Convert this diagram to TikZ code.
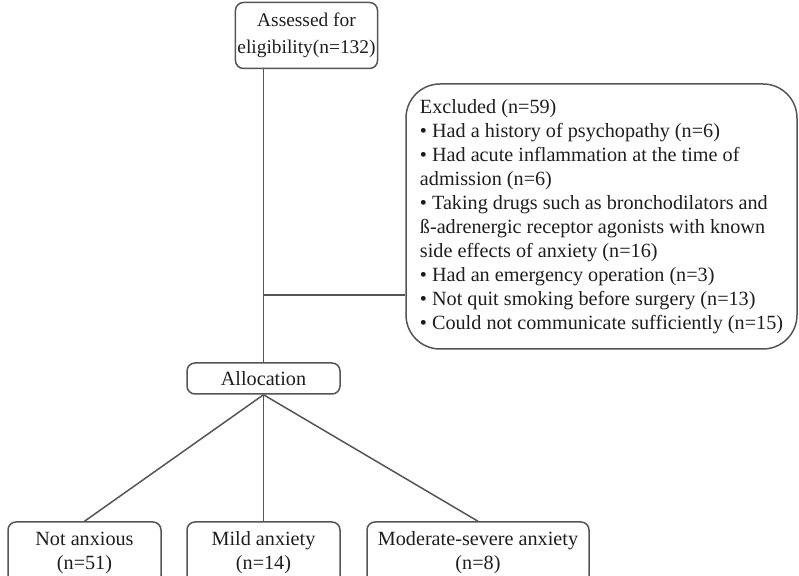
\documentclass[tikz,border=0pt]{standalone}
\usepackage{fontspec}
\setmainfont{Liberation Serif}
\usetikzlibrary{positioning}
\definecolor{flowline}{HTML}{555555}
\definecolor{flowtext}{HTML}{1E1E1E}
\tikzstyle{box} = [draw=flowline, line width=0.75pt, rounded corners=4pt, align=center, text=flowtext, inner sep=2pt]
\tikzstyle{link} = [draw=flowline, line width=0.75pt]

\begin{document}
\begin{tikzpicture}[x=0.5pt, y=-0.5pt, font=\fontsize{10.1}{12}\selectfont]
\useasboundingbox (0,0) rectangle (799,576);
% enrolment
\node[box, font=\fontsize{9.7}{13.5}\selectfont, inner xsep=1pt, minimum width=66.5pt, minimum height=33pt] at (306.5,35.5) (assess) {Assessed for\\eligibility(n=132)};
\node[box, rounded corners=17pt, align=left, inner xsep=6.5pt, minimum width=195.5pt, minimum height=132.5pt] at (601.5,216.5) (excl) {Excluded (n=59)\\
\textbullet\ Had a history of psychopathy (n=6)\\
\textbullet\ Had acute inflammation at the time of\\
admission (n=6)\\
\textbullet\ Taking drugs such as bronchodilators and\\
ß-adrenergic receptor agonists with known\\
side effects of anxiety (n=16)\\
\textbullet\ Had an emergency operation (n=3)\\
\textbullet\ Not quit smoking before surgery (n=13)\\
\textbullet\ Could not communicate sufficiently (n=15)};
\node[box, minimum width=76.5pt, minimum height=15.5pt] at (263.5,378.5) (alloc) {Allocation};
% groups
\node[box, minimum width=76.5pt, minimum height=31pt] at (84.5,553) (calm) {Not anxious\\(n=51)};
\node[box, minimum width=76.5pt, minimum height=31pt] at (263.5,553) (mild) {Mild anxiety\\(n=14)};
\node[box, minimum width=111pt, minimum height=31pt] at (478,553) (severe) {Moderate-severe anxiety\\(n=8)};
\coordinate (split) at (263,295);
\draw[link] (assess.south -| alloc.north) -- (alloc.north);
\draw[link] (split) -- (split -| excl.west);
\draw[link] (alloc.south) -- (calm.north);
\draw[link] (alloc.south) -- (mild.north);
\draw[link] (alloc.south) -- (severe.north);
\end{tikzpicture}
\end{document}
